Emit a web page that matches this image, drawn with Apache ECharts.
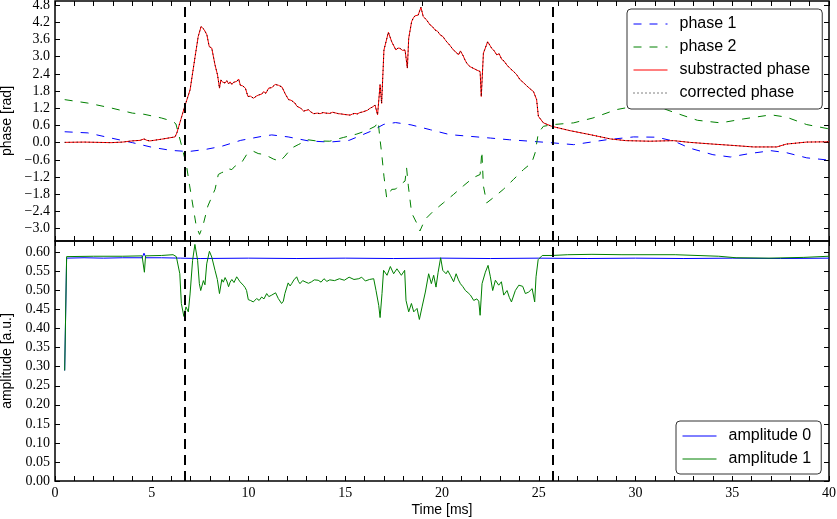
<!DOCTYPE html>
<html>
<head>
<meta charset="utf-8">
<script src="https://cdn.jsdelivr.net/npm/echarts@6/dist/echarts.min.js"></script>
<style>
  html, body { margin: 0; padding: 0; background: #fff; }
  #chart { width: 837px; height: 519px; }
</style>
</head>
<body>
<div id="chart"></div>
<script>
// time in ms
const phase1 = [
  [0.5, 0.38], [1.7, 0.34], [2.9, 0.16], [4.0, 0.0], [5.0, -0.16], [6.0, -0.27], [6.9, -0.31],
  [7.75, -0.24], [8.6, -0.13], [9.6, 0.08], [10.7, 0.22], [11.2, 0.27], [12.05, 0.2], [13.1, 0.06],
  [14.2, 0.02], [15.2, 0.08], [16.3, 0.39], [17.0, 0.64], [17.6, 0.70], [18.4, 0.62], [19.4, 0.45],
  [20.4, 0.28], [21.45, 0.22], [22.5, 0.16], [23.5, 0.10], [24.55, 0.05], [25.6, 0.0], [26.8, -0.07],
  [28.5, 0.10], [29.9, 0.2], [31.1, 0.19], [32.0, 0.05], [32.8, -0.19], [34.0, -0.42], [34.9, -0.50],
  [35.9, -0.38], [37.0, -0.28], [37.8, -0.35], [38.85, -0.53], [40, -0.61]
]
const phase2 = [
  [0.5, 1.50], [1.7, 1.38], [2.9, 1.21], [4.0, 1.03], [4.6, 0.99], [4.7, 0.95], [5.5, 0.86], [6.1, 0.74],
  [6.25, 0.65], [6.35, 0.39], [6.55, -0.12], [6.8, -0.82], [6.96, -1.51], [7.13, -2.21], [7.3, -2.91],
  [7.47, -3.2], [7.64, -2.91], [7.9, -2.21], [8.27, -1.63], [8.44, -1.11], [8.6, -1.05], [8.79, -1.0],
  [8.9, -0.9], [9.14, -0.94], [9.3, -0.82], [9.39, -0.88], [9.64, -0.70], [9.9, -0.42], [10.25, -0.3],
  [10.5, -0.38], [10.6, -0.32], [10.85, -0.42], [11.28, -0.57], [11.63, -0.65], [11.88, -0.47],
  [12.23, -0.19], [12.57, -0.07], [13.08, 0.1], [13.5, 0.06], [14.2, 0.05], [14.9, 0.18], [15.6, 0.3],
  [16.1, 0.42], [16.55, 0.57], [16.7, 0.74], [16.8, 0.10], [16.88, -0.36], [17.0, -1.17], [17.14, -1.92],
  [17.4, -1.63], [17.6, -1.62], [17.74, -1.51], [18.09, -1.34], [18.17, -0.88], [18.26, -1.51],
  [18.43, -2.45], [18.69, -2.8], [18.86, -3.08], [19.12, -2.68], [19.55, -2.39], [20.07, -2.10],
  [20.59, -1.81], [21.1, -1.51], [21.62, -1.22], [21.97, -1.11], [22.06, -0.30], [22.14, -1.51],
  [22.31, -2.10], [22.65, -1.92], [23.17, -1.63], [23.7, -1.28], [24.21, -0.94], [24.64, -0.70],
  [24.81, -0.36], [24.98, 0.34], [25.24, 0.57], [25.75, 0.63], [26.8, 0.69], [27.8, 0.86], [29.0, 1.15],
  [30.1, 1.29], [31.1, 1.27], [32.1, 1.03], [33.2, 0.78], [34.4, 0.69], [35.6, 0.83], [37.0, 0.97],
  [37.8, 0.89], [38.85, 0.63], [40, 0.48]
]
const subPhase = [
  [0.5, 0.01], [1.5, 0.02], [2.9, 0.0], [3.5, 0.02], [3.96, 0.06], [4.4, 0.08], [4.6, 0.13], [4.75, 0.08],
  [4.9, 0.06], [5.5, 0.12], [6.2, 0.2], [6.3, 0.34], [6.5, 0.8], [6.68, 1.21], [6.98, 1.84], [7.24, 3.0],
  [7.4, 3.7], [7.55, 4.05], [7.7, 3.95], [7.85, 3.76], [7.97, 3.35], [8.05, 3.38], [8.1, 3.3], [8.27, 2.71],
  [8.4, 2.36], [8.5, 1.90], [8.57, 2.19], [8.64, 2.12], [8.7, 2.1], [8.79, 2.08], [8.88, 2.16], [8.97, 2.05],
  [9.05, 2.12], [9.14, 2.03], [9.22, 2.1], [9.31, 2.06], [9.4, 2.14], [9.49, 2.22], [9.58, 2.0], [9.7, 1.98],
  [9.84, 1.90], [9.97, 1.61], [10.1, 1.62], [10.18, 1.58], [10.26, 1.55], [10.4, 1.62], [10.52, 1.66],
  [10.6, 1.6], [10.7, 1.7], [10.78, 1.78], [10.9, 1.72], [11.04, 1.90], [11.12, 1.84], [11.2, 1.92],
  [11.3, 1.96], [11.38, 2.03], [11.55, 2.0], [11.73, 1.94], [11.9, 1.7], [12.07, 1.50], [12.2, 1.48],
  [12.3, 1.42], [12.4, 1.38], [12.5, 1.27], [12.6, 1.24], [12.7, 1.2], [12.85, 1.10], [12.95, 1.12],
  [13.1, 1.15], [13.2, 1.08], [13.37, 1.01], [13.55, 1.03], [13.7, 1.01], [13.85, 1.05], [14.0, 1.03],
  [14.2, 1.02], [14.35, 1.06], [14.47, 1.04], [14.65, 1.01], [14.8, 1.0], [15.0, 0.98], [15.25, 0.96],
  [15.38, 1.0], [15.5, 1.02], [15.62, 1.0], [15.76, 1.05], [15.9, 1.07], [16.0, 1.1], [16.15, 1.13],
  [16.28, 1.2], [16.4, 1.24], [16.54, 1.31], [16.67, 0.97], [16.8, 2.02], [16.88, 1.37], [17.0, 3.23],
  [17.23, 3.85], [17.4, 3.52], [17.5, 3.56], [17.62, 3.23], [17.72, 3.3], [17.83, 3.29], [17.95, 3.22],
  [18.09, 3.23], [18.21, 2.6], [18.28, 3.64], [18.43, 4.22], [18.52, 4.35], [18.6, 4.42], [18.68, 4.38],
  [18.77, 4.45], [18.91, 4.72], [19.03, 4.40], [19.12, 4.36], [19.2, 4.28], [19.3, 4.22], [19.38, 4.11],
  [19.5, 4.05], [19.64, 3.93], [19.78, 3.88], [19.9, 3.76], [20.05, 3.7], [20.15, 3.6], [20.24, 3.52],
  [20.4, 3.4], [20.5, 3.34], [20.59, 3.23], [20.72, 3.16], [20.85, 3.06], [20.95, 3.2], [21.02, 3.17],
  [21.1, 3.02], [21.19, 2.88], [21.3, 2.75], [21.45, 2.65], [21.6, 2.6], [21.8, 2.53], [21.97, 2.48],
  [22.03, 1.61], [22.14, 3.12], [22.36, 3.52], [22.47, 3.4], [22.57, 3.29], [22.7, 3.2], [22.83, 3.06],
  [22.95, 3.1], [23.09, 2.9], [23.2, 2.85], [23.35, 2.71], [23.5, 2.6], [23.7, 2.48], [23.85, 2.38],
  [24.04, 2.19], [24.2, 2.1], [24.38, 1.98], [24.6, 1.85], [24.73, 1.78], [24.89, 1.50], [24.98, 0.92],
  [25.24, 0.69], [25.67, 0.57], [26.6, 0.42], [27.65, 0.28], [28.7, 0.13], [29.5, 0.07], [30.75, 0.05],
  [31.96, 0.07], [32.8, 0.01], [34.0, -0.05], [35.1, -0.10], [36.1, -0.15], [37.3, -0.15], [37.8, -0.05],
  [38.85, 0.02], [40, 0.03]
]
// corrected phase lies on top of the substracted one
const corrPhase = subPhase

const amp0 = [
  [0.5, 0.29], [0.6, 0.585], [1.5, 0.586], [2.5, 0.585], [3.5, 0.586], [4.5, 0.586], [4.6, 0.598],
  [4.7, 0.586], [5.5, 0.586], [6.5, 0.585], [7.5, 0.584], [10, 0.585], [12.5, 0.584], [15, 0.585],
  [17.5, 0.584], [20, 0.585], [22.5, 0.584], [25, 0.585], [27.5, 0.584], [30, 0.585], [32.5, 0.584],
  [35, 0.585], [37.5, 0.584], [40, 0.585]
]
const amp1 = [
  [0.5, 0.29], [0.6, 0.589], [2.0, 0.590], [3.5, 0.590], [4.5, 0.591], [4.57, 0.590], [4.62, 0.548],
  [4.68, 0.591], [5.5, 0.592], [6.1, 0.594], [6.27, 0.589], [6.45, 0.544], [6.53, 0.466], [6.66, 0.432],
  [6.77, 0.457], [6.89, 0.444], [6.98, 0.491], [7.11, 0.579], [7.23, 0.621], [7.37, 0.579], [7.46, 0.518],
  [7.53, 0.50], [7.67, 0.526], [7.75, 0.515], [7.84, 0.570], [7.98, 0.603], [8.1, 0.588], [8.27, 0.553],
  [8.39, 0.529], [8.5, 0.492], [8.62, 0.529], [8.7, 0.522], [8.79, 0.534], [8.88, 0.525], [8.97, 0.51],
  [9.05, 0.522], [9.14, 0.529], [9.25, 0.521], [9.39, 0.536], [9.47, 0.530], [9.56, 0.523], [9.65, 0.527],
  [9.73, 0.514], [9.82, 0.508], [9.9, 0.50], [9.99, 0.476], [10.1, 0.474], [10.25, 0.470], [10.33, 0.466],
  [10.42, 0.479], [10.55, 0.474], [10.68, 0.483], [10.8, 0.478], [10.94, 0.492], [11.05, 0.484],
  [11.2, 0.488], [11.3, 0.485], [11.4, 0.494], [11.54, 0.479], [11.71, 0.466], [11.8, 0.472],
  [11.88, 0.492], [12.05, 0.520], [12.15, 0.512], [12.23, 0.518], [12.35, 0.528], [12.49, 0.536],
  [12.58, 0.524], [12.66, 0.518], [12.8, 0.526], [12.92, 0.523], [13.1, 0.519], [13.26, 0.523],
  [13.4, 0.528], [13.6, 0.527], [13.75, 0.522], [13.9, 0.531], [14.05, 0.524], [14.2, 0.528], [14.45, 0.526],
  [14.7, 0.531], [14.95, 0.527], [15.2, 0.535], [15.45, 0.529], [15.7, 0.531], [15.85, 0.535], [16.04, 0.525],
  [16.25, 0.529], [16.47, 0.531], [16.59, 0.50], [16.73, 0.461], [16.8, 0.429], [16.9, 0.492], [16.98, 0.553],
  [17.16, 0.540], [17.33, 0.563], [17.5, 0.544], [17.67, 0.557], [17.9, 0.540], [18.07, 0.553], [18.14, 0.474],
  [18.28, 0.444], [18.42, 0.466], [18.54, 0.444], [18.71, 0.453], [18.83, 0.424], [18.97, 0.457],
  [19.14, 0.496], [19.31, 0.544], [19.45, 0.518], [19.57, 0.540], [19.69, 0.509], [19.8, 0.548],
  [19.93, 0.586], [20.04, 0.553], [20.21, 0.544], [20.3, 0.552], [20.43, 0.540], [20.6, 0.523],
  [20.73, 0.544], [20.85, 0.528], [20.95, 0.518], [21.08, 0.510], [21.21, 0.50], [21.35, 0.494],
  [21.47, 0.488], [21.55, 0.492], [21.64, 0.474], [21.8, 0.478], [21.9, 0.472], [21.97, 0.435],
  [22.07, 0.518], [22.24, 0.548], [22.38, 0.566], [22.5, 0.536], [22.62, 0.50], [22.76, 0.527],
  [22.93, 0.514], [23.07, 0.523], [23.19, 0.488], [23.36, 0.50], [23.48, 0.482], [23.59, 0.470],
  [23.79, 0.50], [23.97, 0.514], [24.17, 0.511], [24.31, 0.492], [24.48, 0.496], [24.66, 0.505],
  [24.79, 0.470], [24.86, 0.536], [24.97, 0.581], [25.18, 0.592], [25.7, 0.592], [26.5, 0.594],
  [27.75, 0.595], [29.3, 0.594], [32.05, 0.594], [34.3, 0.590], [35.2, 0.586], [36.9, 0.585],
  [38.7, 0.587], [40, 0.59]
]

const markerTimes = [6.68, 25.7]
const phaseTicks = [-3.0, -2.4, -1.8, -1.2, -0.6, 0.0, 0.6, 1.2, 1.8, 2.4, 3.0, 3.6, 4.2, 4.8]
const ampTicks = [0, 0.05, 0.1, 0.15, 0.2, 0.25, 0.3, 0.35, 0.4, 0.45, 0.5, 0.55, 0.6]

const chart = echarts.init(document.getElementById('chart'))

const tickFont = { color: '#000', fontFamily: 'Liberation Serif', fontSize: 14 }
const nameFont = { color: '#000', fontFamily: 'Liberation Sans', fontSize: 14 }

const fmt = (v, d) => (v < 0 ? '\u2212' : '') + Math.abs(v).toFixed(d)

// x axis: ticks every 1 ms, labels every 5
const xAxisFor = (grid, pos, labels) => ({
  type: 'value', gridIndex: grid, position: pos, min: 0, max: 40, interval: 1,
  axisLine: { show: false, onZero: false },
  axisTick: { show: true, inside: true, length: 5, lineStyle: { color: '#000', width: 1 } },
  axisLabel: {
    show: labels, margin: 5, ...tickFont,
    formatter: v => (v % 5 === 0 ? String(v) : '')
  },
  splitLine: { show: false },
  name: labels ? 'Time [ms]' : '', nameLocation: 'middle', nameGap: 22, nameTextStyle: nameFont
})

const yAxisFor = (grid, pos, min, max, ticks, digits, name) => ({
  type: 'value', gridIndex: grid, position: pos, min: min, max: max,
  axisLine: { show: false, onZero: false },
  axisTick: { show: true, inside: true, length: 5, customValues: ticks, lineStyle: { color: '#000', width: 1 } },
  axisLabel: { show: pos === 'left', margin: 5, customValues: ticks, ...tickFont, formatter: v => fmt(v, digits) },
  splitLine: { show: false },
  name: pos === 'left' ? name : '', nameLocation: 'middle', nameGap: 40, nameTextStyle: nameFont
})

const vLines = {
  silent: true, symbol: 'none', label: { show: false },
  lineStyle: { color: '#000', width: 2, type: [10, 6] },
  data: markerTimes.map(t => ({ xAxis: t }))
}

const lineSeries = (name, data, xi, yi, color, type, extra) => ({
  name: name, type: 'line', data: data, xAxisIndex: xi, yAxisIndex: yi,
  symbol: 'none', showSymbol: false, animation: false,
  lineStyle: { color: color, width: 1, type: type },
  itemStyle: { color: color },
  ...extra
})

const legendBase = {
  orient: 'vertical', selectedMode: false,
  backgroundColor: '#fff', borderColor: '#333', borderWidth: 1, borderRadius: 4,
  itemWidth: 34, itemHeight: 14, itemGap: 5,
  itemStyle: { opacity: 0, borderWidth: 0 },
  lineStyle: { width: 1 },
  textStyle: { color: '#000', fontFamily: 'Liberation Sans', fontSize: 16, lineHeight: 18, padding: [0, 0, 0, 7] }
}

const gridBase = {
  left: 55, right: 8, height: 240, show: true, containLabel: false, outerBoundsMode: 'none',
  borderColor: '#000', borderWidth: 1.5, backgroundColor: 'transparent'
}

const option = {
  animation: false,
  backgroundColor: '#fff',
  grid: [
    { ...gridBase, top: 1 },
    { ...gridBase, top: 241 }
  ],
  xAxis: [
    xAxisFor(0, 'bottom', false),
    xAxisFor(0, 'top', false),
    xAxisFor(1, 'bottom', true),
    xAxisFor(1, 'top', false)
  ],
  yAxis: [
    yAxisFor(0, 'left', -3.43, 4.94, phaseTicks, 1, 'phase [rad]'),
    yAxisFor(0, 'right', -3.43, 4.94, phaseTicks, 1, ''),
    yAxisFor(1, 'left', 0, 0.63, ampTicks, 2, 'amplitude [a.u.]'),
    yAxisFor(1, 'right', 0, 0.63, ampTicks, 2, '')
  ],
  legend: [
    { ...legendBase, left: 627, top: 9, padding: [6, 12, 7, 6],
      data: ['phase 1', 'phase 2', 'substracted phase', 'corrected phase'] },
    { ...legendBase, left: 676, top: 421, padding: [6, 10, 6, 6],
      data: ['amplitude 0', 'amplitude 1'] }
  ],
  series: [
    lineSeries('phase 1', phase1, 0, 0, '#0000ff', [8, 8], { markLine: vLines }),
    lineSeries('phase 2', phase2, 0, 0, '#008000', [8, 8]),
    lineSeries('substracted phase', subPhase, 0, 0, '#ff0000', 'solid'),
    lineSeries('corrected phase', corrPhase, 0, 0, '#000000', [1, 3]),
    lineSeries('amplitude 0', amp0, 2, 2, '#0000ff', 'solid', { markLine: vLines }),
    lineSeries('amplitude 1', amp1, 2, 2, '#008000', 'solid')
  ]
}

chart.setOption(option)
</script>
</body>
</html>
